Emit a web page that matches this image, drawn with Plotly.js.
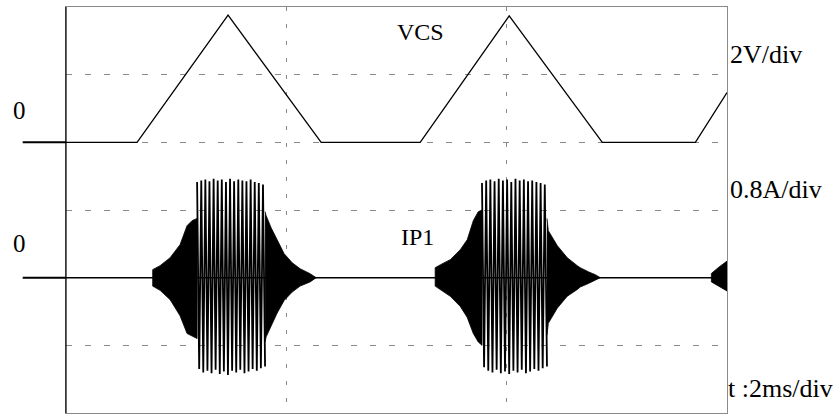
<!DOCTYPE html>
<html><head><meta charset="utf-8">
<script src="https://cdn.plot.ly/plotly-3.0.1.min.js"></script>
<style>html,body{margin:0;padding:0;background:#fff}#chart{width:834px;height:415px}</style>
</head><body><div id="chart"></div>
<script>
// ---- VCS (time in ms, volts) ----
const vcsTime  = [0, 0.645, 1.471, 2.316, 3.215, 4.023, 4.868, 5.713, 6.0];
const vcsVolts = [0, 0,     3.76,  0,     0,     3.74,  0,     0,     1.47];

// ---- IP1 baseline (time in ms, amps) ----
const ip1BaseTime = [0, 6];
const ip1BaseAmps = [0, 0];

// ---- IP1 solid envelope segments: time, upper amplitude, lower amplitude (A) ----
const burst1RiseTime = [0.787, 0.787, 0.854, 0.945, 1.035, 1.099, 1.144, 1.190];
const burst1RiseUp   = [0,     0.095, 0.142, 0.236, 0.39,  0.615, 0.674, 0.70];
const burst1RiseLo   = [0,     0.10,  0.15,  0.26,  0.45,  0.66,  0.69,  0.72];
const burst1FallTime = [1.807, 1.817, 1.862, 1.916, 1.980, 2.053, 2.125, 2.216, 2.271];
const burst1FallUp   = [0.78,  0.733, 0.59,  0.45,  0.284, 0.177, 0.106, 0.047, 0];
const burst1FallLo   = [0.76,  0.70,  0.57,  0.42,  0.27,  0.17,  0.10,  0.05,  0];
const burst2RiseTime = [3.351, 3.351, 3.40,  3.488, 3.579, 3.642, 3.697, 3.742, 3.776];
const burst2RiseUp   = [0,     0.118, 0.154, 0.213, 0.331, 0.449, 0.674, 0.78,  0.80];
const burst2RiseLo   = [0,     0.10,  0.14,  0.22,  0.34,  0.47,  0.66,  0.76,  0.80];
const burst2FallTime = [4.366, 4.378, 4.460, 4.550, 4.641, 4.668, 4.741, 4.805, 4.850];
const burst2FallUp   = [0.70,  0.556, 0.378, 0.236, 0.142, 0.118, 0.07,  0.035, 0];
const burst2FallLo   = [0.68,  0.54,  0.36,  0.22,  0.14,  0.11,  0.07,  0.03,  0];
const burst3RiseTime = [5.858, 5.858, 5.922, 6.0];
const burst3RiseUp   = [0,     0.05,  0.12,  0.196];
const burst3RiseLo   = [0,     0.05,  0.10,  0.158];

// ---- IP1 full-amplitude oscillation peaks (A) ----
const burst1PeakTime = [1.190, 1.209, 1.228, 1.246, 1.265, 1.284, 1.302, 1.321, 1.340, 1.358, 1.377, 1.396, 1.414, 1.433, 1.452, 1.470, 1.489, 1.508, 1.526, 1.545, 1.564, 1.582, 1.601, 1.620, 1.638, 1.657, 1.676, 1.694, 1.713, 1.732, 1.750, 1.769, 1.788, 1.807];
const burst1PeakAmps = [1.13, -1.08, 1.15, -1.12, 1.16, -1.10, 1.14, -1.13, 1.17, -1.09, 1.15, -1.14, 1.16, -1.11, 1.13, -1.15, 1.17, -1.10, 1.14, -1.12, 1.16, -1.09, 1.15, -1.13, 1.14, -1.11, 1.16, -1.08, 1.13, -1.10, 1.12, -1.07, 1.10, -1.05];
const burst2PeakTime = [3.776, 3.795, 3.814, 3.833, 3.852, 3.871, 3.890, 3.909, 3.928, 3.947, 3.966, 3.985, 4.004, 4.023, 4.042, 4.061, 4.080, 4.099, 4.118, 4.137, 4.156, 4.175, 4.194, 4.213, 4.232, 4.251, 4.270, 4.289, 4.308, 4.327, 4.346, 4.366];
const burst2PeakAmps = [1.12, -1.06, 1.15, -1.10, 1.16, -1.12, 1.14, -1.09, 1.17, -1.13, 1.15, -1.11, 1.16, -1.14, 1.13, -1.10, 1.17, -1.12, 1.15, -1.09, 1.16, -1.13, 1.14, -1.11, 1.15, -1.08, 1.13, -1.10, 1.12, -1.07, 1.10, -1.05];

// ---- text ----
const labelVCS = 'VCS', labelIP1 = 'IP1';
const scaleV = '2V/div', scaleA = '0.8A/div', scaleT = 't :2ms/div';

function envelope(t, up, lo) {
  return {
    type: 'scatter', mode: 'lines', yaxis: 'y2',
    x: t.concat(t.slice().reverse()),
    y: up.concat(lo.slice().reverse().map(v => -v)),
    fill: 'toself', fillcolor: '#000',
    line: {color: '#000', width: 0.8}, hoverinfo: 'skip', showlegend: false
  };
}
function line(x, y, axis, w) {
  return {type: 'scatter', mode: 'lines', x: x, y: y, yaxis: axis,
          line: {color: '#000', width: w}, hoverinfo: 'skip', showlegend: false};
}

const data = [
  envelope(burst1RiseTime, burst1RiseUp, burst1RiseLo),
  envelope(burst1FallTime, burst1FallUp, burst1FallLo),
  envelope(burst2RiseTime, burst2RiseUp, burst2RiseLo),
  envelope(burst2FallTime, burst2FallUp, burst2FallLo),
  envelope(burst3RiseTime, burst3RiseUp, burst3RiseLo),
  line(burst1PeakTime, burst1PeakAmps, 'y2', 1.8),
  line(burst2PeakTime, burst2PeakAmps, 'y2', 1.8),
  line(ip1BaseTime, ip1BaseAmps, 'y2', 1.5),
  line(vcsTime, vcsVolts, 'y', 1.3)
];

const f = size => ({family: 'Liberation Serif', size: size, color: '#000'});
const layout = {
  width: 834, height: 415,
  margin: {l: 66, r: 107, t: 7, b: 2, pad: 0},
  paper_bgcolor: '#fff', plot_bgcolor: '#fff',
  showlegend: false,
  font: f(24),
  xaxis: {range: [0, 6], dtick: 2, tick0: 0, showgrid: true, gridcolor: '#8a8a8a', gridwidth: 1,
          griddash: '4px,13px', zeroline: false, showticklabels: false, ticks: '',
          showline: true, mirror: true, linecolor: '#8a8a8a', linewidth: 1, fixedrange: true},
  yaxis: {range: [-8, 4], dtick: 2, tick0: 0, showgrid: true, gridcolor: '#8a8a8a', gridwidth: 1,
          griddash: '6px,13px', zeroline: false, showticklabels: false, ticks: '',
          showline: true, mirror: true, linecolor: '#8a8a8a', linewidth: 1, fixedrange: true},
  yaxis2: {range: [-1.6, 3.2], overlaying: 'y', showgrid: false, zeroline: false,
           showticklabels: false, ticks: '', showline: false, fixedrange: true},
  shapes: [
    {type: 'line', xref: 'paper', yref: 'paper', x0: 0, x1: 0, y0: 0, y1: 1, line: {color: '#000', width: 1.2}},
    {type: 'line', xref: 'paper', yref: 'y', x0: -0.0655, x1: 0, y0: 0, y1: 0, line: {color: '#000', width: 2}},
    {type: 'line', xref: 'paper', yref: 'y2', x0: -0.0655, x1: 0, y0: 0, y1: 0, line: {color: '#000', width: 2}}
  ],
  annotations: [
    {text: labelVCS, xref: 'paper', yref: 'paper', x: 0.536, y: 0.938, xanchor: 'center', yanchor: 'middle', showarrow: false, font: f(24)},
    {text: labelIP1, xref: 'paper', yref: 'paper', x: 0.532, y: 0.433, xanchor: 'center', yanchor: 'middle', showarrow: false, font: f(24)},
    {text: '0', xref: 'paper', yref: 'paper', x: -0.0711, y: 0.746, xanchor: 'center', yanchor: 'middle', showarrow: false, font: f(25)},
    {text: '0', xref: 'paper', yref: 'paper', x: -0.0711, y: 0.418, xanchor: 'center', yanchor: 'middle', showarrow: false, font: f(25)},
    {text: scaleV, xref: 'paper', yref: 'paper', x: 1.002, y: 0.882, xanchor: 'left', yanchor: 'middle', showarrow: false, font: f(26)},
    {text: scaleA, xref: 'paper', yref: 'paper', x: 1.002, y: 0.551, xanchor: 'left', yanchor: 'middle', showarrow: false, font: f(26)},
    {text: scaleT, xref: 'paper', yref: 'paper', x: 0.998, y: 0.061, xanchor: 'left', yanchor: 'middle', showarrow: false, font: f(26)}
  ]
};

Plotly.newPlot('chart', data, layout, {staticPlot: true, displayModeBar: false});
</script>
</body></html>
